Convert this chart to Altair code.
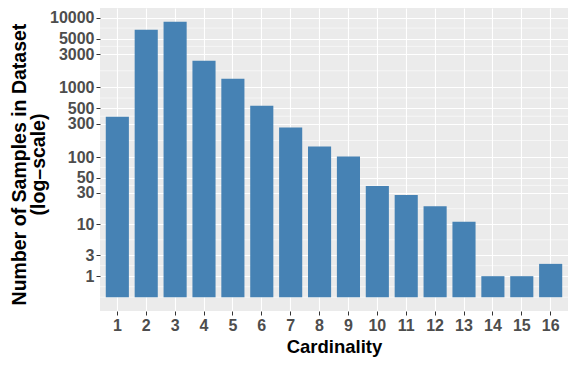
import math
import altair as alt
import pandas as pd

# ---- data ----
cardinality = [str(i) for i in range(1, 17)]
samples = [382, 6690, 8710, 2410, 1335, 548, 266, 142, 102, 38, 28, 19, 11, 1, 1, 2]
y_ticks = [1, 3, 10, 30, 50, 100, 300, 500, 1000, 3000, 5000, 10000]

df = pd.DataFrame({"Cardinality": cardinality, "Samples": samples, "Base": [0] * len(samples)})

# ggplot-like log1p scale: domain with 5% expansion in transformed space
tmax = math.log10(max(samples) + 1)
pad = 0.05 * tmax
domain = [-(10 ** pad - 1), 10 ** (tmax + pad) - 1]

# minor breaks (midpoints in transformed space, as ggplot does)
tb = [math.log10(v + 1) for v in y_ticks]
bd = tb[1] - tb[0]
tb_ext = [tb[0] - bd] + tb + [tb[-1] + bd]
minor_t = []
for a, b in zip(tb_ext[:-1], tb_ext[1:]):
    minor_t += [a, (a + b) / 2]
minor_t.append(tb_ext[-1])
minor_t = [t for t in minor_t if all(abs(t - m) > 1e-9 for m in tb)]
minor_vals = [10 ** t - 1 for t in minor_t]
minor_vals = [v for v in minor_vals if domain[0] <= v <= domain[1]]
minor_df = pd.DataFrame({"v": minor_vals})

FONT = "Liberation Sans"

yscale = alt.Scale(type="symlog", constant=1, domain=domain, nice=False, zero=False)
xscale = alt.Scale(paddingInner=0.2, paddingOuter=0.2)

yaxis = alt.Axis(
    title=["Number of Samples in Dataset", "(log\u2013scale)"],
    values=y_ticks,
    format="d",
    labelOverlap=False,
    labelFont=FONT,
    labelFontSize=16,
    labelFontWeight="bold",
    labelColor="#4D4D4D",
    labelPadding=2,
    tickColor="#333333",
    tickSize=4,
    domain=False,
    grid=True,
    gridColor="white",
    gridWidth=1.1,
    titleFont=FONT,
    titleFontSize=19.5,
    titleFontWeight="bold",
    titleColor="black",
    titleLineHeight=19,
    titleAngle=-90,
    titleAlign="center",
    titleBaseline="middle",
    titleX=-81,
    titleY=156,
)

minor = alt.Chart(minor_df).mark_rule(color="white", strokeWidth=0.55).encode(
    y=alt.Y("v:Q", scale=yscale, axis=yaxis)
)

bars = alt.Chart(df).mark_bar(color="#4682B4").encode(
    x=alt.X(
        "Cardinality:N",
        sort=cardinality,
        scale=xscale,
        axis=alt.Axis(
            title="Cardinality",
            labelAngle=0,
            labelFont=FONT,
            labelFontSize=16,
            labelFontWeight="bold",
            labelColor="#4D4D4D",
            labelPadding=2,
            tickColor="#333333",
            tickSize=4,
            domain=False,
            grid=True,
            gridColor="white",
            gridWidth=1.1,
            titleFont=FONT,
            titleFontSize=18.5,
            titleFontWeight="bold",
            titleColor="black",
            titleBaseline="alphabetic",
            titleY=41,
        ),
    ),
    y=alt.Y("Samples:Q", scale=yscale, axis=yaxis),
    y2=alt.Y2("Base:Q"),
)

chart = (
    alt.layer(minor, bars)
    .properties(
        width=468,
        height=303,
        autosize=alt.AutoSizeParams(type="none"),
        padding={"left": 92, "top": 0, "right": 0, "bottom": 46},
    )
    .configure_view(fill="#EBEBEB", stroke=None)
)

chart.save("out.html", embed_options={"renderer": "svg", "actions": False})
